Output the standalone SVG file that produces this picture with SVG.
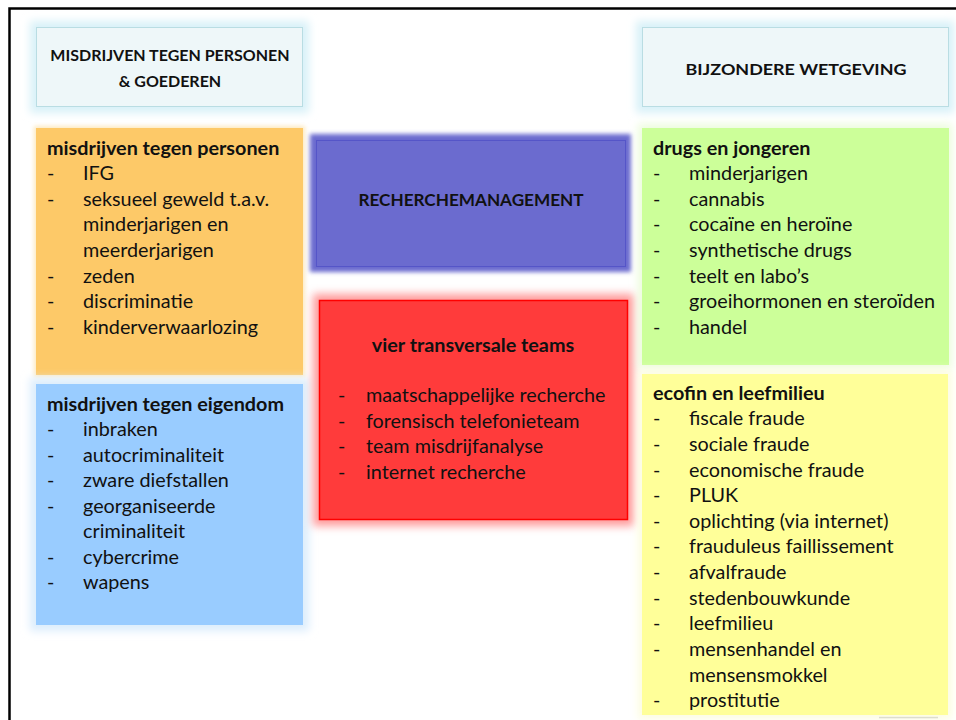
<svg xmlns="http://www.w3.org/2000/svg" width="956" height="720" viewBox="0 0 956 720">
<defs>
<filter id="glow" x="-20%" y="-20%" width="140%" height="140%"><feGaussianBlur stdDeviation="4"/></filter>
<filter id="soft" x="-10%" y="-10%" width="120%" height="120%"><feGaussianBlur stdDeviation="2"/></filter>
<style>
text{font-family:Lato,"Open Sans","Liberation Sans",sans-serif;fill:#111;}
.h{font-size:16px;font-weight:bold;text-anchor:middle;}
.t{font-size:19.8px;font-weight:bold;}
.i{font-size:19.8px;}
.c{text-anchor:middle;}
</style>
</defs>
<rect x="0" y="0" width="956" height="720" fill="#fff"/>
<path d="M9.5 720V8.5H956" fill="none" stroke="#000" stroke-width="2.5"/>
<line x1="879" y1="717.5" x2="938" y2="717.5" stroke="#aaa" stroke-width="1.5"/>

<g id="header-left">
<rect x="30" y="21" width="279" height="92" fill="#d8f1f8" filter="url(#glow)"/>
<rect x="36.5" y="27.5" width="266" height="79" fill="#eef7f9" stroke="#b9dde3" stroke-width="1"/>
<text class="h" x="170" y="61">MISDRIJVEN TEGEN PERSONEN</text>
<text class="h" x="170" y="87">&amp; GOEDEREN</text>
</g>

<g id="header-right">
<rect x="636" y="21" width="318" height="92" fill="#d8f1f8" filter="url(#glow)"/>
<rect x="642.5" y="27.5" width="306" height="79" fill="#eef7f9" stroke="#b9dde3" stroke-width="1"/>
<text class="h" x="796" y="75" textLength="221" lengthAdjust="spacingAndGlyphs">BIJZONDERE WETGEVING</text>
</g>

<g id="personen">
<rect x="34" y="126" width="271" height="251" fill="#fde9c0" filter="url(#soft)"/>
<rect x="36" y="128" width="267" height="247" fill="#fdc968"/>
<text class="t" x="47" y="155">misdrijven tegen personen</text>
<text class="i" x="47" y="180">-</text><text class="i" x="83" y="180">IFG</text>
<text class="i" x="47" y="206">-</text><text class="i" x="83" y="206">seksueel geweld t.a.v.</text>
<text class="i" x="83" y="231">minderjarigen en</text>
<text class="i" x="83" y="257">meerderjarigen</text>
<text class="i" x="47" y="283">-</text><text class="i" x="83" y="283">zeden</text>
<text class="i" x="47" y="308">-</text><text class="i" x="83" y="308">discriminatie</text>
<text class="i" x="47" y="334">-</text><text class="i" x="83" y="334">kinderverwaarlozing</text>
</g>

<g id="eigendom">
<rect x="30" y="378" width="279" height="253" fill="#dcedfc" filter="url(#glow)"/>
<rect x="36" y="384" width="267" height="241" fill="#99ccff"/>
<text class="t" x="47" y="411">misdrijven tegen eigendom</text>
<text class="i" x="47" y="436">-</text><text class="i" x="83" y="436">inbraken</text>
<text class="i" x="47" y="462">-</text><text class="i" x="83" y="462">autocriminaliteit</text>
<text class="i" x="47" y="487">-</text><text class="i" x="83" y="487">zware diefstallen</text>
<text class="i" x="47" y="513">-</text><text class="i" x="83" y="513">georganiseerde</text>
<text class="i" x="83" y="538">criminaliteit</text>
<text class="i" x="47" y="564">-</text><text class="i" x="83" y="564">cybercrime</text>
<text class="i" x="47" y="589">-</text><text class="i" x="83" y="589">wapens</text>
</g>

<g id="recherchemanagement">
<rect x="310" y="134" width="321" height="138" fill="#6b6bcf" filter="url(#soft)"/>
<rect x="316.5" y="140.5" width="309" height="126" fill="#6b6bcf" stroke="#5555c8" stroke-width="1"/>
<text class="h" x="471" y="206" style="font-size:17px" textLength="225" lengthAdjust="spacingAndGlyphs">RECHERCHEMANAGEMENT</text>
</g>

<g id="transversale-teams">
<rect x="313" y="294" width="321" height="232" fill="#ff9a9a" filter="url(#glow)"/>
<rect x="319.5" y="300.5" width="308" height="219" fill="#ff3b3b" stroke="#ff0000" stroke-width="1.5"/>
<text class="t c" x="473" y="352">vier transversale teams</text>
<text class="i" x="338" y="402">-</text><text class="i" x="366" y="402">maatschappelijke recherche</text>
<text class="i" x="338" y="428">-</text><text class="i" x="366" y="428">forensisch telefonieteam</text>
<text class="i" x="338" y="453">-</text><text class="i" x="366" y="453">team misdrijfanalyse</text>
<text class="i" x="338" y="479">-</text><text class="i" x="366" y="479">internet recherche</text>
</g>

<g id="drugs">
<rect x="638" y="124" width="314" height="245" fill="#ecfcdc" filter="url(#glow)"/>
<rect x="642" y="128" width="307" height="237" fill="#ccff99"/>
<text class="t" x="653" y="155">drugs en jongeren</text>
<text class="i" x="653" y="180">-</text><text class="i" x="689" y="180">minderjarigen</text>
<text class="i" x="653" y="206">-</text><text class="i" x="689" y="206">cannabis</text>
<text class="i" x="653" y="231">-</text><text class="i" x="689" y="231">cocaïne en heroïne</text>
<text class="i" x="653" y="257">-</text><text class="i" x="689" y="257">synthetische drugs</text>
<text class="i" x="653" y="283">-</text><text class="i" x="689" y="283">teelt en labo’s</text>
<text class="i" x="653" y="308">-</text><text class="i" x="689" y="308">groeihormonen en steroïden</text>
<text class="i" x="653" y="334">-</text><text class="i" x="689" y="334">handel</text>
</g>

<g id="ecofin">
<rect x="638" y="370" width="314" height="349" fill="#fdfde0" filter="url(#glow)"/>
<rect x="642" y="374" width="306" height="341" fill="#ffff99"/>
<text class="t" x="653" y="400">ecofin en leefmilieu</text>
<text class="i" x="653" y="425">-</text><text class="i" x="689" y="425">fiscale fraude</text>
<text class="i" x="653" y="451">-</text><text class="i" x="689" y="451">sociale fraude</text>
<text class="i" x="653" y="477">-</text><text class="i" x="689" y="477">economische fraude</text>
<text class="i" x="653" y="502">-</text><text class="i" x="689" y="502">PLUK</text>
<text class="i" x="653" y="528">-</text><text class="i" x="689" y="528">oplichting (via internet)</text>
<text class="i" x="653" y="553">-</text><text class="i" x="689" y="553">frauduleus faillissement</text>
<text class="i" x="653" y="579">-</text><text class="i" x="689" y="579">afvalfraude</text>
<text class="i" x="653" y="605">-</text><text class="i" x="689" y="605">stedenbouwkunde</text>
<text class="i" x="653" y="630">-</text><text class="i" x="689" y="630">leefmilieu</text>
<text class="i" x="653" y="656">-</text><text class="i" x="689" y="656">mensenhandel en</text>
<text class="i" x="689" y="682">mensensmokkel</text>
<text class="i" x="653" y="707">-</text><text class="i" x="689" y="707">prostitutie</text>
</g>
<g id="connectors"/>
</svg>
